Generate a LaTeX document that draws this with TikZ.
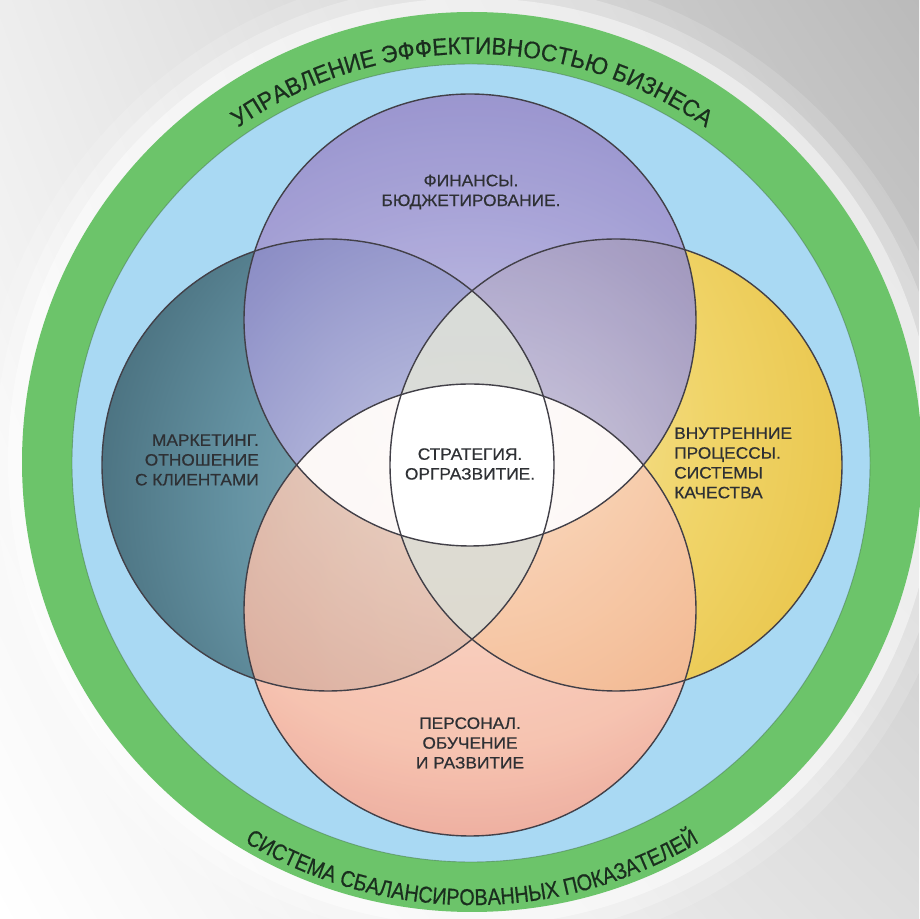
\documentclass[tikz,border=0pt]{standalone}
\usepackage{fontspec}
\setmainfont{Liberation Sans}
\newfontfamily\vennfont[FakeStretch=1.05,FakeBold=0.5]{Liberation Sans}
\newfontfamily\topringfont[FakeStretch=0.94,FakeBold=0.6]{Liberation Sans}
\newfontfamily\bottomringfont[FakeStretch=0.86,FakeBold=0.6]{Liberation Sans}
\usetikzlibrary{decorations.text,shadings}

% palette
\definecolor{ringgreen}{RGB}{108,196,106}
\definecolor{ringblue}{RGB}{169,217,243}
\definecolor{outline}{RGB}{66,64,72}
\definecolor{txt}{RGB}{46,48,52}
\definecolor{ringtxt}{RGB}{26,46,30}
\definecolor{finIn}{RGB}{222,220,242}
\definecolor{finMid}{RGB}{156,151,210}
\definecolor{finOut}{RGB}{102,96,178}
\definecolor{mktIn}{RGB}{172,208,218}
\definecolor{mktMid}{RGB}{100,146,162}
\definecolor{mktOut}{RGB}{36,64,76}
\definecolor{qualIn}{RGB}{250,240,205}
\definecolor{qualMid}{RGB}{240,212,104}
\definecolor{qualOut}{RGB}{224,178,38}
\definecolor{hrIn}{RGB}{253,230,212}
\definecolor{hrMid}{RGB}{245,184,162}
\definecolor{hrOut}{RGB}{204,88,84}
\definecolor{lensTop}{RGB}{222,226,218}
\definecolor{lensMid}{RGB}{242,243,239}
\definecolor{lensBot}{RGB}{218,219,212}

% each circle is lit from the side facing the middle of the diagram
\pgfdeclareradialshading{finshade}{\pgfpoint{0bp}{-30bp}}%
  {color(0bp)=(finIn); color(32bp)=(finMid); color(64bp)=(finOut); color(100bp)=(finOut)}
\pgfdeclareradialshading{mktshade}{\pgfpoint{28bp}{-6bp}}%
  {color(0bp)=(mktIn); color(30bp)=(mktMid); color(62bp)=(mktOut); color(100bp)=(mktOut)}
\pgfdeclareradialshading{qualshade}{\pgfpoint{-28bp}{6bp}}%
  {color(0bp)=(qualIn); color(30bp)=(qualMid); color(62bp)=(qualOut); color(100bp)=(qualOut)}
\pgfdeclareradialshading{hrshade}{\pgfpoint{0bp}{30bp}}%
  {color(0bp)=(hrIn); color(35bp)=(hrMid); color(66bp)=(hrOut); color(100bp)=(hrOut)}

\tikzset{
  lbl/.style={font=\vennfont\fontsize{16.5}{19.8}\selectfont, text=txt, inner sep=0pt},
  vennline/.style={draw=outline, line width=1.4},
  ringtext/.style 2 args={decorate, decoration={text along path, text align=center,
      text color=ringtxt, text={|#1|#2}}}
}

\begin{document}
\begin{tikzpicture}[x=1pt,y=1pt]
\useasboundingbox (0,0) rectangle (919,919);
% backdrop
\shade[upper left=black!7, upper right=black!27, lower right=black!13, lower left=white]
  (0,0) rectangle (919,919);
\coordinate (ring) at (472,457);
\foreach \r/\o in {494/0.15, 478/0.25, 464/0.45}
  \fill[white, opacity=\o] (ring) circle[radius=\r];

% outer rings
\fill[ringgreen] (ring) circle[radius=450];
\coordinate (inner) at (471,456);
\fill[ringblue] (inner) circle[radius=399];
\draw[ringgreen!60!black, line width=0.9, opacity=0.5] (inner) circle[radius=399];

% four overlapping circles
\def\vr{226}
\coordinate (cT) at (470,599);
\coordinate (cB) at (470,309);
\coordinate (cL) at (328,454);
\coordinate (cR) at (616,454);

\fill[white] (cT) circle[radius=\vr];
\fill[white] (cB) circle[radius=\vr];
\shade[shading=mktshade] (cL) circle[radius=\vr];
\shade[shading=qualshade] (cR) circle[radius=\vr];
\shade[shading=finshade, opacity=0.86] (cT) circle[radius=\vr];
\shade[shading=hrshade, opacity=0.84] (cB) circle[radius=\vr];

% pale lenses around the centre
\begin{scope}
  \clip (cT) circle[radius=\vr];
  \fill[white, opacity=0.88] (cB) circle[radius=\vr];
\end{scope}
\begin{scope}
  \clip (cL) circle[radius=\vr];
  \shade[top color=lensTop, middle color=lensMid, bottom color=lensBot, opacity=0.9]
    (cR) circle[radius=\vr];
\end{scope}
\begin{scope}
  \clip (cT) circle[radius=\vr];
  \clip (cB) circle[radius=\vr];
  \clip (cL) circle[radius=\vr];
  \fill[white] (cR) circle[radius=\vr];
\end{scope}

\path[vennline] (cT) circle[radius=\vr];
\path[vennline] (cB) circle[radius=\vr];
\path[vennline] (cL) circle[radius=\vr];
\path[vennline] (cR) circle[radius=\vr];

% labels
\node[lbl, align=center] (fin) at (471,727) {ФИНАНСЫ.\\БЮДЖЕТИРОВАНИЕ.};
\node[lbl, align=right, anchor=east] (mkt) at (259,459) {МАРКЕТИНГ.\\ОТНОШЕНИЕ\\С КЛИЕНТАМИ};
\node[lbl, align=left, anchor=west] (proc) at (674,456) {ВНУТРЕННИЕ\\ПРОЦЕССЫ.\\СИСТЕМЫ\\КАЧЕСТВА};
\node[lbl, align=center] (strat) at (470,455) {СТРАТЕГИЯ.\\ОРГРАЗВИТИЕ.};
\node[lbl, align=center] (hr) at (470,176) {ПЕРСОНАЛ.\\ОБУЧЕНИЕ\\И РАЗВИТИЕ};

% lettering in the green ring
\path[ringtext={\topringfont\fontsize{24}{24}\selectfont}{УПРАВЛЕНИЕ ЭФФЕКТИВНОСТЬЮ БИЗНЕСА}]
  (ring) ++(160:408) arc[start angle=160, end angle=20, radius=408];
\path[ringtext={\bottomringfont\fontsize{23}{23}\selectfont}{СИСТЕМА СБАЛАНСИРОВАННЫХ ПОКАЗАТЕЛЕЙ}]
  (ring) ++(200:443) arc[start angle=200, end angle=340, radius=443];
\end{tikzpicture}
\end{document}
